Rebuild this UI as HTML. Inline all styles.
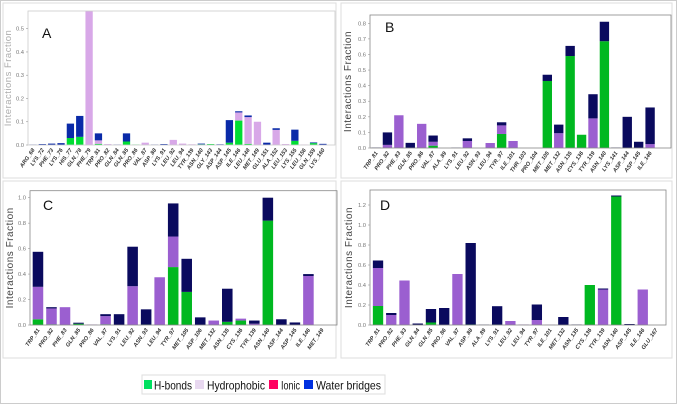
<!DOCTYPE html>
<html><head><meta charset="utf-8"><style>
body{margin:0;background:#fff;}
svg{display:block;font-family:"Liberation Sans",sans-serif;}
</style></head><body>
<svg id="chart" width="677" height="404" viewBox="0 0 677 404">
<rect x="0.5" y="0.5" width="676" height="403" fill="#fff" stroke="#ccc"/>
<rect x="3" y="3" width="333" height="175" fill="none" stroke="#ddd"/>
<rect x="341" y="3" width="331" height="175" fill="none" stroke="#ddd"/>
<rect x="3" y="181" width="333" height="177" fill="none" stroke="#ddd"/>
<rect x="341" y="181" width="331" height="177" fill="none" stroke="#ddd"/>
<g>
<rect x="142" y="375" width="243" height="19" fill="#fff" stroke="#ddd"/>
<rect x="144" y="380" width="8" height="9" fill="#00e060"/>
<text x="154" y="389.5" font-size="12" fill="#111" textLength="38" lengthAdjust="spacingAndGlyphs">H-bonds</text>
<rect x="195" y="380" width="9" height="9" fill="#e8d8f0"/>
<text x="207" y="389.5" font-size="12" fill="#111" textLength="58" lengthAdjust="spacingAndGlyphs">Hydrophobic</text>
<rect x="269" y="380" width="9" height="9" fill="#ff0060"/>
<text x="281" y="389.5" font-size="12" fill="#111" textLength="19" lengthAdjust="spacingAndGlyphs">Ionic</text>
<rect x="304" y="380" width="9" height="9" fill="#0030e0"/>
<text x="316" y="389.5" font-size="12" fill="#111" textLength="65" lengthAdjust="spacingAndGlyphs">Water bridges</text>
</g>
</svg>
<script>
const catsA=["ARG_68","LYS_72","PHE_73","LYS_76","HIS_77","GLN_78","PHE_79","TRP_81","PRO_82","GLN_84","GLN_85","PRO_86","VAL_87","ASP_88","LYS_91","LEU_92","LEU_94","TYR_139","ASN_140","GLY_143","ASP_144","ASP_145","ILE_146","LEU_148","MET_149","GLU_151","ALA_152","LEU_153","LYS_155","LEU_156","GLN_159","LYS_160"];
const hbA=[0,0,0,0,0.03,0.035,0,0.005,0,0,0.015,0.002,0,0,0,0,0,0,0.003,0.004,0,0.01,0.105,0.005,0,0,0,0,0.018,0,0.008,0];
const hyA=[0,0,0,0,0,0,0.58,0.015,0.004,0,0,0,0.01,0,0,0.022,0.006,0.003,0,0,0,0,0.035,0.115,0.1,0,0.065,0.004,0,0.002,0,0];
const wbA=[0.002,0.004,0.006,0.008,0.062,0.09,0,0.03,0,0.002,0.035,0,0,0.002,0.004,0,0,0,0.003,0,0.003,0.097,0.005,0.007,0,0.01,0.007,0,0.048,0,0.003,0.005];
const ticksA=[0,0.1,0.2,0.3,0.4,0.5];

const catsB=["TRP_81","PRO_82","PHE_83","GLN_85","PRO_86","VAL_87","ALA_89","LYS_91","LEU_92","ASN_93","LEU_94","TYR_97","ILE_101","THR_103","PRO_104","MET_105","MET_132","ASN_135","CYS_136","TYR_139","ASN_140","LYS_141","ASP_144","ASP_145","ILE_146"];
const hbB=[0,0,0,0,0,0.015,0,0,0,0,0,0.09,0,0,0,0.43,0,0.59,0.085,0,0.685,0,0,0,0];
const hyB=[0,0.02,0.21,0,0.155,0.025,0,0,0.045,0,0.032,0.055,0.045,0,0,0,0.095,0,0,0.19,0,0,0,0,0.025];
const wbB=[0.003,0.08,0,0.033,0,0.04,0,0.002,0.017,0,0,0.02,0,0,0,0.04,0.055,0.065,0,0.155,0.125,0.003,0.2,0.04,0.235];
const ticksB=[0,0.1,0.2,0.3,0.4,0.5,0.6,0.7,0.8];

const catsC=["TRP_81","PRO_82","PHE_83","GLN_85","PRO_86","VAL_87","LYS_91","LEU_92","ASN_93","LEU_94","TYR_97","MET_105","ASP_106","MET_132","ASN_135","CYS_136","TYR_139","ASN_140","ASP_144","ASP_145","ILE_146","MET_149"];
const hbC=[0.045,0.005,0,0.01,0,0.005,0,0,0.003,0,0.455,0.26,0,0,0.025,0.035,0,0.82,0,0,0,0];
const hyC=[0.255,0.125,0.14,0,0.003,0.065,0,0.305,0,0.375,0.24,0,0,0.035,0,0.015,0.01,0,0,0,0.385,0];
const wbC=[0.275,0.01,0,0.008,0,0.015,0.085,0.31,0.12,0,0.26,0.26,0.06,0,0.26,0,0.025,0.18,0.045,0.02,0.015,0];
const ticksC=[0,0.2,0.4,0.6,0.8,1.0];

const catsD=["TRP_81","PRO_82","PHE_83","GLN_84","GLN_85","PRO_86","VAL_87","ASP_88","ALA_89","LYS_91","LEU_92","LEU_94","TYR_97","ILE_101","MET_132","ASN_135","CYS_136","TYR_139","ASN_140","ASP_145","ILE_146","GLU_167"];
const hbD=[0.19,0,0,0,0.025,0,0,0.005,0,0.003,0,0,0,0,0,0,0.4,0,1.285,0,0,0];
const hyD=[0.38,0.1,0.445,0,0,0,0.51,0,0,0,0.04,0.005,0.05,0.002,0,0,0,0.355,0,0,0.355,0];
const wbD=[0.075,0.02,0,0.015,0.135,0.17,0,0.815,0.003,0.185,0,0,0.155,0,0.08,0.005,0,0.01,0.01,0.01,0,0];
const ticksD=[0,0.2,0.4,0.6,0.8,1.0,1.2];

const NS="http://www.w3.org/2000/svg";
const svg=document.getElementById('chart');
function mk(tag,attrs,parent){const e=document.createElementNS(NS,tag);for(const k in attrs)e.setAttribute(k,attrs[k]);(parent||svg).appendChild(e);return e;}

function panel(cfg,cats,hb,hy,wb,ticks){
  const g=mk('g',{});
  
  
  const y=v=>cfg.y0-(v/cfg.unit)*(cfg.y0-cfg.yUnit);
  const step=(cfg.bR-cfg.bL)/cats.length;
  const xc=i=>cfg.bL+(i+0.5)*step;
  const bw=step*cfg.bwf;
  const clip=mk('clipPath',{id:'clip'+cfg.id},g);
  mk('rect',{x:cfg.left,y:cfg.top,width:cfg.right-cfg.left,height:cfg.y0-cfg.top},clip);
  const bars=mk('g',{'clip-path':'url(#clip'+cfg.id+')'},g);
  cats.forEach((c,i)=>{
    let base=0;
    [[hb[i],cfg.cH,'hbond'],[hy[i],cfg.cY,'hydrophobic'],[wb[i],cfg.cW,'water']].forEach(([v,col,nm])=>{
      if(v<=0)return;
      const r=mk('rect',{x:xc(i)-bw/2,y:y(base+v),width:bw,height:Math.max(0.6,y(base)-y(base+v)),fill:col},bars);
      
      
      base+=v;
    });
    const t=mk('text',{x:xc(i)+2,y:cfg.y0+5,'font-size':5.6,'font-weight':'bold','font-style':'italic',fill:'#333','text-anchor':'end',transform:`rotate(-55 ${xc(i)+2} ${cfg.y0+5})`},g);
    t.textContent=c;
    
    
  });
  const ax=mk('rect',{x:cfg.left,y:cfg.top,width:cfg.right-cfg.left,height:cfg.y0-cfg.top,fill:'none',stroke:cfg.axC,'stroke-width':0.8},g);
  
  
  ticks.forEach(v=>{
    mk('line',{x1:cfg.left-2,x2:cfg.left,y1:y(v),y2:y(v),stroke:'#999','stroke-width':0.6},g);
    const t=mk('text',{x:cfg.left-4,y:y(v)+2,'font-size':5.8,fill:'#777','text-anchor':'end'},g);
    t.textContent=v.toFixed(1);
    
    
  });
  const yt=mk('text',{x:cfg.ytx,y:(cfg.top+cfg.y0)/2,'font-size':cfg.ytS,fill:cfg.ytC,'text-anchor':'middle','letter-spacing':'0.5',transform:`rotate(-90 ${cfg.ytx} ${(cfg.top+cfg.y0)/2})`},g);
  yt.textContent='Interactions Fraction';
  
  
  const lt=mk('text',{x:cfg.lx,y:cfg.ly,'font-size':14,fill:'#111'},g);
  lt.textContent=cfg.id.toUpperCase();
  
  
}
const lightH='#00dd33',lightY='#d8a8e8',lightW='#0a2aa8';
const darkH='#00b820',darkY='#9b5fd0',darkW='#0a0a5e';
panel({id:'a',left:28,right:335,top:11,y0:145,unit:0.5,yUnit:28.7,bL:28.3,bR:327.6,bwf:0.78,cH:lightH,cY:lightY,cW:lightW,axC:'#ccc',ytx:11,ytS:9.5,ytC:'#aaa',lx:42,ly:38},catsA,hbA,hyA,wbA,ticksA);
panel({id:'b',left:370,right:671,top:15,y0:148,unit:0.8,yUnit:23.3,bL:370.3,bR:655.8,bwf:0.82,cH:darkH,cY:darkY,cW:darkW,axC:'#888',ytx:351,ytS:10,ytC:'#444',lx:385,ly:32},catsB,hbB,hyB,wbB,ticksB);
panel({id:'c',left:30,right:337,top:190.7,y0:325,unit:1.0,yUnit:197.7,bL:31.2,bR:328.7,bwf:0.78,cH:darkH,cY:darkY,cW:darkW,axC:'#888',ytx:13,ytS:10,ytC:'#444',lx:43,ly:210},catsC,hbC,hyC,wbC,ticksC);
panel({id:'d',left:370,right:666,top:190,y0:325,unit:1.2,yUnit:205,bL:371.4,bR:662.6,bwf:0.78,cH:darkH,cY:darkY,cW:darkW,axC:'#888',ytx:352,ytS:10,ytC:'#444',lx:380,ly:210},catsD,hbD,hyD,wbD,ticksD);
</script>
</body></html>
